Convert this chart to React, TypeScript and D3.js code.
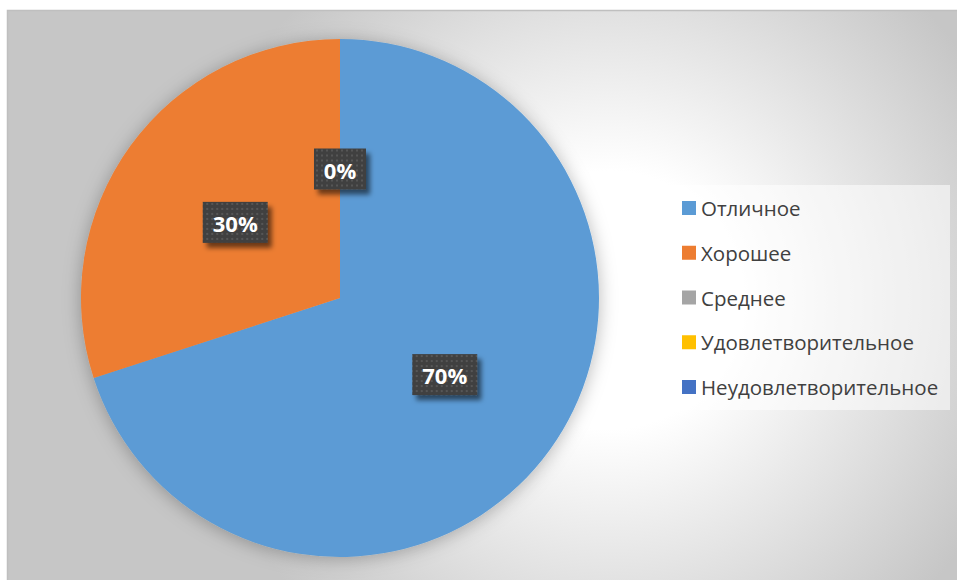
import React from 'react';
import * as d3 from 'd3';

// Оценки и доли (в процентах)
const categories = ['Отличное', 'Хорошее', 'Среднее', 'Удовлетворительное', 'Неудовлетворительное'];
const values = [70, 30, 0, 0, 0];
const colors = ['#5B9BD5', '#ED7D31', '#A5A5A5', '#FFC000', '#4472C4'];

const W = 957;
const H = 580;

const App: React.FC = () => {
    const cx = 340;
    const cy = 298;
    const radius = 259;

    const pie = d3.pie<number>().value(d => d).sort(null);
    const arcs = pie(values);
    const arcGen = d3.arc<d3.PieArcDatum<number>>().innerRadius(0).outerRadius(radius);
    const total = d3.sum(values);

    // подписи: одинаковые позиции у нулевых секторов рисуем один раз
    const seen = new Set<string>();
    const labels = arcs
        .map((a, i) => {
            const [lx, ly] = arcGen.centroid(a);
            const key = `${Math.round(lx)}_${Math.round(ly)}`;
            if (seen.has(key)) return null;
            seen.add(key);
            const text = `${Math.round((values[i] / total) * 100)}%`;
            const digits = text.length - 1;
            const w = 20 + 13 * digits + 19;
            return { i, lx, ly, text, w };
        })
        .filter(Boolean) as { i: number; lx: number; ly: number; text: string; w: number }[];

    const legendY = d3.scalePoint<string>().domain(categories).range([208, 387]);

    return (
        <div style={{ position: 'absolute', left: 0, top: 0 }}>
            <svg width={W} height={H} style={{ display: 'block' }}>
                <defs>
                    <radialGradient id="bg" gradientUnits="userSpaceOnUse" cx={610} cy={300} r={430}>
                        <stop offset="0" stopColor="#ffffff" />
                        <stop offset="0.3" stopColor="#ffffff" />
                        <stop offset="1" stopColor="#c6c6c6" />
                    </radialGradient>
                    <filter id="pieShadow" x="-20%" y="-20%" width="140%" height="140%">
                        <feDropShadow dx="0" dy="2" stdDeviation="9" floodColor="#000" floodOpacity="0.28" />
                    </filter>
                    <filter id="boxShadow" x="-30%" y="-30%" width="170%" height="170%">
                        <feDropShadow dx="4" dy="5" stdDeviation="2.5" floodColor="#000" floodOpacity="0.55" />
                    </filter>
                    <pattern id="dots" width="5" height="5" patternUnits="userSpaceOnUse">
                        <rect width="5" height="5" fill="#3f3f3f" />
                        <rect x="1" y="1" width="2" height="2" fill="#575757" />
                    </pattern>
                </defs>

                {/* фон области диаграммы */}
                <rect x={7.5} y={10.5} width={W} height={H} fill="url(#bg)" stroke="#bfbfbf" strokeWidth={1.5} />

                {/* круговая диаграмма */}
                <g transform={`translate(${cx},${cy})`}>
                    <g filter="url(#pieShadow)">
                        {arcs.map((a, i) => (
                            <path key={categories[i]} d={arcGen(a) || ''} fill={colors[i]} />
                        ))}
                    </g>

                    {labels.map(l => (
                        <g key={`lbl-${l.i}`} transform={`translate(${l.lx},${l.ly})`}>
                            <rect
                                x={-l.w / 2}
                                y={-20}
                                width={l.w}
                                height={41}
                                fill="url(#dots)"
                                filter="url(#boxShadow)"
                            />
                            <text
                                y={1}
                                textAnchor="middle"
                                dominantBaseline="central"
                                fontFamily="'Open Sans', sans-serif"
                                fontWeight="bold"
                                fontSize={22}
                                fill="#ffffff"
                            >
                                {l.text}
                            </text>
                        </g>
                    ))}
                </g>

                {/* легенда */}
                <rect x={670} y={185} width={280} height={225} fill="#ffffff" fillOpacity={0.55} />
                {categories.map((c, i) => {
                    const y = legendY(c) as number;
                    return (
                        <g key={`leg-${c}`}>
                            <rect x={682} y={y - 7} width={14} height={14} fill={colors[i]} />
                            <text
                                x={701}
                                y={y}
                                dominantBaseline="central"
                                fontFamily="'Open Sans', sans-serif"
                                fontSize={20.5}
                                fill="#404040"
                            >
                                {c}
                            </text>
                        </g>
                    );
                })}
            </svg>
        </div>
    );
};

export default App;
